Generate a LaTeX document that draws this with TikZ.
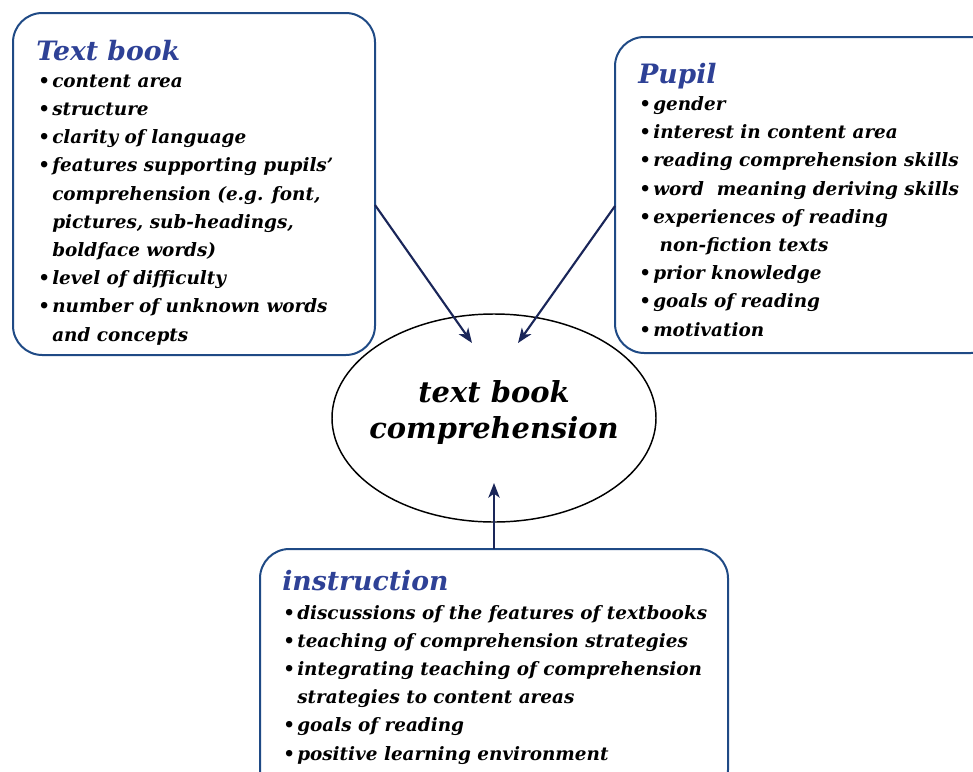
\documentclass[tikz,border=0pt]{standalone}
\usepackage{fontspec}
\setmainfont{DejaVu Serif}
\usetikzlibrary{shapes.geometric,arrows.meta,positioning}
\definecolor{boxblue}{HTML}{1F4A85}
\definecolor{headblue}{HTML}{2E4196}
\definecolor{arrownavy}{HTML}{1A2659}
\newcommand{\itm}{\makebox[10.5pt][l]{\textbullet}}
\newcommand{\cnt}{\hspace*{10.5pt}}
\tikzset{
  factorbox/.style={draw=boxblue, line width=1.5pt, rounded corners=22pt, anchor=north west, inner sep=0pt, outer sep=0pt},
  boxhead/.style={text=headblue, font=\fontsize{20}{24}\selectfont\bfseries\itshape, anchor=base west, inner sep=0pt},
  factorlist/.style={font=\fontsize{13.8}{21.15}\selectfont\bfseries\itshape, align=left, anchor=base west, inner sep=0pt},
  influence/.style={draw=arrownavy, line width=1.6pt, -{Stealth[length=11pt,width=8.5pt,inset=3pt]}}
}
\begin{document}
\begin{tikzpicture}[x=0.75pt,y=-0.75pt]
\useasboundingbox (0,0) rectangle (973,771);
\clip (0,0) rectangle (973,771);
% factor boxes
\node[factorbox, minimum width=271.5pt, minimum height=256.5pt] (textbook) at (13,13) {};
\node[factorbox, minimum width=288.75pt, minimum height=237pt] (pupil) at (615,37) {};
\node[factorbox, minimum width=351pt, minimum height=187.5pt] (instruction) at (260,549) {};
% central ellipse
\node[draw, ellipse, line width=1.1pt, minimum width=243pt, minimum height=156pt, inner sep=0pt] (comprehension) at (494,418) {};
\node[align=center, inner sep=0pt, font=\fontsize{21.7}{27}\selectfont\bfseries\itshape, anchor=base] (comprehensiontext) at (494,438) {text book\\comprehension};
% headings
\node[boxhead] (textbookhead) at (36,60) {Text book};
\node[boxhead] (pupilhead) at (638,83) {Pupil};
\node[boxhead] (instructionhead) at (282,590) {instruction};
% lists (placed at the baseline of their last line)
\node[factorlist] (textbooklist) at (38,341) {\itm content area\\
\itm structure\\
\itm clarity of language\\
\itm features supporting pupils’\\
\cnt comprehension (e.g. font,\\
\cnt pictures, sub-headings,\\
\cnt boldface words)\\
\itm level of difficulty\\
\itm number of unknown words\\
\cnt and concepts};
\node[factorlist] (pupillist) at (639,336) {\itm gender\\
\itm interest in content area\\
\itm reading comprehension skills\\
\itm word~ meaning deriving skills\\
\itm experiences of reading\\
\cnt\ non-fiction texts\\
\itm prior knowledge\\
\itm goals of reading\\
\itm motivation};
\node[factorlist] (instructionlist) at (283,760) {\itm discussions of the features of textbooks\\
\itm teaching of comprehension strategies\\
\itm integrating teaching of comprehension\\
\cnt strategies to content areas\\
\itm goals of reading\\
\itm positive learning environment};
% arrows
\coordinate (textbooktip) at (472,343);
\coordinate (pupiltip) at (518,343);
\coordinate (instructiontip) at (494,483);
\draw[influence] ([yshift=-15.75pt]textbook.east) -- (textbooktip);
\draw[influence] ([yshift=-8.25pt]pupil.west) -- (pupiltip);
\draw[influence] (instruction.north) -- (instructiontip);
\end{tikzpicture}
\end{document}
